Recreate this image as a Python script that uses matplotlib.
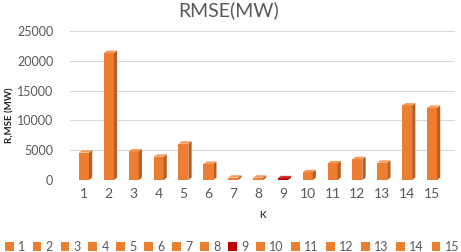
import matplotlib.pyplot as plt
from matplotlib.patches import Polygon, Patch

# RMSE per K
k_labels = [str(i) for i in range(1, 16)]
rmse = [4600, 21300, 4800, 3900, 6100, 2700, 400, 400, 300, 1300, 2800, 3500, 2900, 12500, 12100]
bar_colors = ["#ED7D31"] * 15
bar_colors[8] = "#C00000"
side_colors = ["#B85E1F"] * 15
side_colors[8] = "#8A0000"
top_colors = ["#F29A5C"] * 15
top_colors[8] = "#D43030"

plt.rcParams['font.family'] = ['Lato', 'DejaVu Sans']
grey = "#595959"

fig = plt.figure(figsize=(4.61, 2.52), dpi=100)
ax = fig.add_axes([70/461, 1-180/252, 385/461, 149/252])

x = list(range(1, 16))
w = 0.4
dx, dy = 0.13, 400
bars = ax.bar(x, rmse, width=w, color=bar_colors, zorder=3)
for xi, v, sc, tc in zip(x, rmse, side_colors, top_colors):
    l, r = xi - w/2, xi + w/2
    ax.add_patch(Polygon([(r, 0), (r+dx, dy), (r+dx, v+dy), (r, v)], closed=True,
                         facecolor=sc, edgecolor='none', zorder=3))
    ax.add_patch(Polygon([(l, v), (r, v), (r+dx, v+dy), (l+dx, v+dy)], closed=True,
                         facecolor=tc, edgecolor='none', zorder=3))

ax.set_xlim(0.437, 15.925)
ax.set_ylim(0, 25000)
ax.set_yticks([0, 5000, 10000, 15000, 20000, 25000])
ax.set_xticks(x)
ax.set_xticklabels(k_labels)
ax.grid(axis='y', color='#D9D9D9', linewidth=0.8, zorder=0)
for s in ax.spines.values():
    s.set_visible(False)
ax.tick_params(length=0, labelsize=9, labelcolor=grey)
ax.tick_params(axis='x', labelsize=10, pad=6)
ax.tick_params(axis='y', pad=12)

ax.set_xlabel("K", fontsize=7, fontweight='bold', color='#404040', labelpad=8)
fig.text(10/461, 1-115/252, "R,MSE (MW)", rotation=90, fontsize=7, fontweight='bold',
         color='#262626', ha='center', va='center')

fig.text(229/461, 1-10/252, "RMSE(MW)", fontsize=14, color=grey, ha='center', va='center')

handles = [Patch(facecolor=c) for c in bar_colors]
fig.legend(handles, k_labels, loc='center', bbox_to_anchor=(232/461, 5/252), ncol=15,
           frameon=False, fontsize=9, labelcolor=grey, handlelength=0.7, handleheight=0.7,
           handletextpad=0.35, columnspacing=0.6, borderpad=0)

fig.savefig("out.png", dpi=100)
